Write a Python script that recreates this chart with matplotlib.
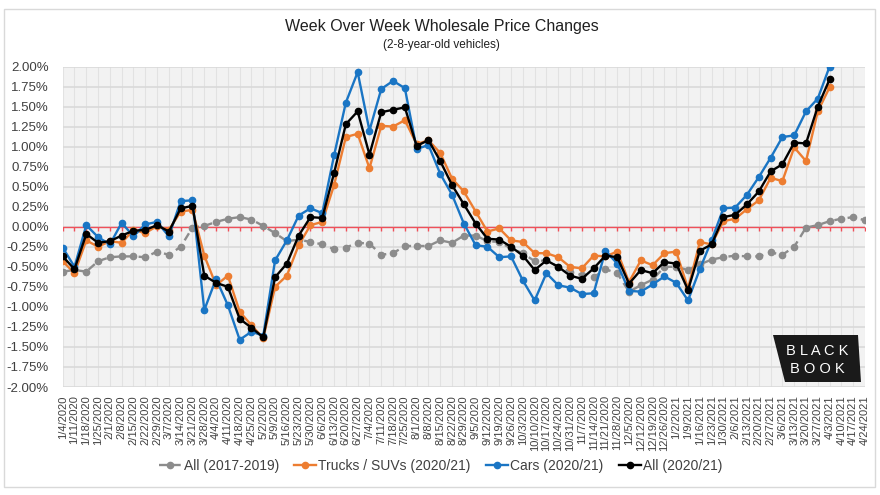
import numpy as np
import matplotlib.pyplot as plt
from matplotlib.patches import Polygon, Rectangle
from matplotlib.ticker import FuncFormatter

# week labels (Saturdays)
weeks_2020 = ["1/4", "1/11", "1/18", "1/25", "2/1", "2/8", "2/15", "2/22", "2/29",
              "3/7", "3/14", "3/21", "3/28", "4/4", "4/11", "4/18", "4/25", "5/2",
              "5/9", "5/16", "5/23", "5/30", "6/6", "6/13", "6/20", "6/27", "7/4",
              "7/11", "7/18", "7/25", "8/1", "8/8", "8/15", "8/22", "8/29", "9/5",
              "9/12", "9/19", "9/26", "10/3", "10/10", "10/17", "10/24", "10/31",
              "11/7", "11/14", "11/21", "11/28", "12/5", "12/12", "12/19", "12/26"]
weeks_2021 = ["1/2", "1/9", "1/16", "1/23", "1/30", "2/6", "2/13", "2/20", "2/27",
              "3/6", "3/13", "3/20", "3/27", "4/3", "4/10", "4/17", "4/24"]
labels = [w + "/2020" for w in weeks_2020] + [w + "/2021" for w in weeks_2021]

# week over week change, percent
all_1719 = [-0.56, -0.54, -0.56, -0.43, -0.38, -0.37, -0.37, -0.38, -0.31, -0.35,
            -0.25, -0.01, 0.01, 0.06, 0.10, 0.12, 0.09, 0.01, -0.08, -0.18,
            -0.16, -0.19, -0.22, -0.28, -0.26, -0.20, -0.21, -0.35, -0.33, -0.24,
            -0.24, -0.24, -0.17, -0.20, -0.11, -0.11, -0.18, -0.19, -0.27, -0.33,
            -0.43, -0.42, -0.50, -0.56, -0.60, -0.63, -0.53, -0.58, -0.81, -0.73,
            -0.66, -0.50, -0.50, -0.54, -0.47, -0.41, -0.38, -0.36, -0.37, -0.37,
            -0.32, -0.35, -0.25, -0.01, 0.02, 0.07, 0.10, 0.12, 0.08]

trucks = [-0.43, -0.58, -0.17, -0.25, -0.18, -0.20, -0.04, -0.08, 0.01, -0.04,
          0.19, 0.21, -0.36, -0.73, -0.61, -1.06, -1.23, -1.39, -0.75, -0.61,
          -0.23, 0.02, 0.06, 0.52, 1.12, 1.16, 0.73, 1.26, 1.25, 1.33,
          1.03, 1.08, 0.92, 0.60, 0.44, 0.19, -0.06, -0.02, -0.17, -0.19,
          -0.33, -0.33, -0.38, -0.50, -0.52, -0.36, -0.37, -0.31, -0.69, -0.42,
          -0.48, -0.33, -0.31, -0.77, -0.19, -0.22, 0.07, 0.10, 0.22, 0.33,
          0.61, 0.57, 0.99, 0.82, 1.44, 1.74]

cars = [-0.26, -0.50, 0.02, -0.13, -0.22, 0.05, -0.12, 0.03, 0.06, -0.12,
        0.32, 0.33, -1.04, -0.65, -0.98, -1.41, -1.31, -1.36, -0.42, -0.17,
        0.14, 0.23, 0.17, 0.89, 1.55, 1.93, 1.20, 1.72, 1.82, 1.73,
        0.97, 1.02, 0.66, 0.40, 0.04, -0.23, -0.25, -0.38, -0.37, -0.67,
        -0.92, -0.58, -0.73, -0.76, -0.84, -0.83, -0.30, -0.46, -0.80, -0.81,
        -0.72, -0.62, -0.70, -0.92, -0.53, -0.17, 0.23, 0.24, 0.40, 0.62,
        0.86, 1.12, 1.14, 1.44, 1.60, 2.00]

all_2021 = [-0.37, -0.53, -0.09, -0.20, -0.18, -0.11, -0.05, -0.04, 0.02, -0.06,
            0.23, 0.26, -0.61, -0.70, -0.75, -1.15, -1.26, -1.38, -0.63, -0.46,
            -0.11, 0.12, 0.11, 0.67, 1.28, 1.44, 0.90, 1.43, 1.46, 1.49,
            1.01, 1.08, 0.82, 0.52, 0.28, 0.04, -0.15, -0.16, -0.25, -0.36,
            -0.54, -0.42, -0.50, -0.61, -0.65, -0.52, -0.36, -0.38, -0.71, -0.54,
            -0.58, -0.44, -0.46, -0.79, -0.30, -0.22, 0.12, 0.15, 0.28, 0.44,
            0.69, 0.78, 1.05, 1.04, 1.50, 1.84]

W, H = 880, 495
fig = plt.figure(figsize=(W / 100, H / 100), dpi=100)
ax = fig.add_axes([62.7 / W, 1 - 387 / H, (865 - 62.7) / W, (387 - 66.5) / H])

sans = ["Liberation Sans", "DejaVu Sans"]

# outer frame
fig.patches.append(Rectangle((4 / W, 1 - 487 / H), 871 / W, 478 / H,
                             transform=fig.transFigure, fill=False,
                             edgecolor="#d9d9d9", lw=1.0))

ax.set_facecolor("#f2f2f2")
for s in ax.spines.values():
    s.set_visible(False)

x = np.arange(len(labels))
n = len(trucks)

ax.set_yticks(np.arange(-2.0, 2.01, 0.25))
ax.yaxis.set_major_formatter(FuncFormatter(lambda v, p: "%.2f%%" % v))
ax.set_xticks(x)
ax.set_xticklabels(labels, rotation=90, fontsize=8, color="#404040", family=sans)
for t in ax.get_yticklabels():
    t.set_family(sans)
ax.tick_params(axis="y", length=0, labelsize=9.5, labelcolor="#404040", pad=10)
ax.tick_params(axis="x", length=0, pad=6)
ax.grid(axis="y", color="#d9d9d9", lw=1.2)
ax.grid(axis="x", color="#e2e2e2", lw=0.8)
ax.set_axisbelow(True)

# red zero line with tick marks
ax.plot(x, np.zeros(len(x)), color="#f0505a", lw=1.0, marker=3, markersize=3,
        zorder=2)

ms = 4.5
lw = 1.7
ax.plot(x, all_1719, color="#8c8c8c", lw=lw, ls=(0, (3.5, 2.2)), marker="o",
        markersize=ms, label="All (2017-2019)", zorder=3)
ax.plot(x[:n], trucks, color="#ed7d31", lw=lw, marker="o", markersize=ms,
        label="Trucks / SUVs (2020/21)", zorder=4)
ax.plot(x[:n], cars, color="#1a75c4", lw=lw, marker="o", markersize=ms,
        label="Cars (2020/21)", zorder=5)
ax.plot(x[:n], all_2021, color="black", lw=lw, marker="o", markersize=ms,
        label="All (2020/21)", zorder=6)

ax.set_xlim(0, len(x) - 1)
ax.set_ylim(-2.0, 2.0)

fig.text(0.502, 1 - 27 / H, "Week Over Week Wholesale Price Changes", ha="center",
         va="center", fontsize=11.5, family=sans, color="#202020")
fig.text(0.502, 1 - 45 / H, "(2-8-year-old vehicles)", ha="center", va="center",
         fontsize=8.5, family=sans, color="#202020")

leg = fig.legend(loc="center", bbox_to_anchor=(441 / W, 1 - 466 / H), ncol=4,
                 frameon=False, handlelength=1.6, handletextpad=0.15,
                 columnspacing=1.1, prop={"family": sans, "size": 10})
for t in leg.get_texts():
    t.set_color("#404040")

# Black Book logo
logo = Polygon([(773 / W, 1 - 335 / H), (858 / W, 1 - 335 / H),
                (861 / W, 1 - 382 / H), (785 / W, 1 - 382 / H)],
               closed=True, transform=fig.transFigure, facecolor="#1a1a1a",
               edgecolor="none", zorder=10)
fig.patches.append(logo)
fig.text(817 / W, 1 - 351 / H, "B L A C K", ha="center", va="center", color="white",
         fontsize=10.5, family=sans, zorder=11)
fig.text(817 / W, 1 - 369 / H, "B O O K", ha="center", va="center", color="white",
         fontsize=10.5, family=sans, zorder=11)

fig.savefig("out.png", dpi=100, facecolor="white")
